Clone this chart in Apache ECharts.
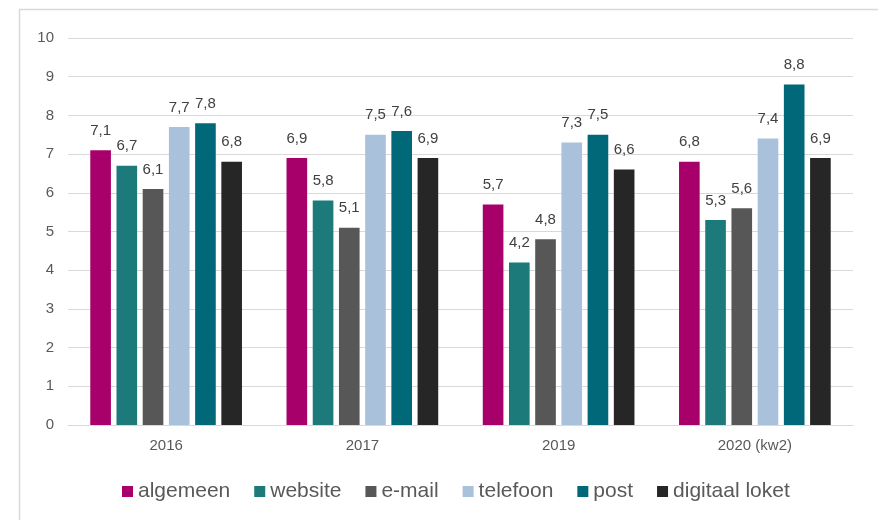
<!DOCTYPE html>
<html>
<head>
<meta charset="utf-8">
<script src="https://cdn.jsdelivr.net/npm/echarts@6/dist/echarts.min.js"></script>
<style>
  html, body { margin: 0; padding: 0; background: #fff; }
  #chart { width: 878px; height: 520px; }
</style>
</head>
<body>
<div id="chart"></div>
<script>
// categories + series values
const categories = ['2016', '2017', '2019', '2020 (kw2)']
const yTicks = [0, 1, 2, 3, 4, 5, 6, 7, 8, 9, 10]

const algemeen = [7.1, 6.9, 5.7, 6.8]
const website = [6.7, 5.8, 4.2, 5.3]
const email = [6.1, 5.1, 4.8, 5.6]
const telefoon = [7.7, 7.5, 7.3, 7.4]
const post = [7.8, 7.6, 7.5, 8.8]
const digitaalLoket = [6.8, 6.9, 6.6, 6.9]

const seriesNames = ['algemeen', 'website', 'e-mail', 'telefoon', 'post', 'digitaal loket']
const seriesData = [algemeen, website, email, telefoon, post, digitaalLoket]
const colors = ['#a8006a', '#1c7a7b', '#575757', '#a9c1da', '#006879', '#262626']

const font = '"Liberation Sans", Arial, sans-serif'

const series = seriesNames.map((name, i) => ({
    name: name,
    type: 'bar',
    data: seriesData[i],
    barGap: '27%',
    barCategoryGap: '22.7%',
    itemStyle: { color: colors[i] },
    label: {
        show: true,
        position: 'top',
        distance: 12,
        fontFamily: font,
        fontSize: 15,
        color: '#404040',
        formatter: p => String(p.value).replace('.', ',')
    }
}))

const options = {
    animation: false,
    color: colors,
    grid: { left: 68, right: 25, top: 38, bottom: 95 },
    // outer frame, only top and left edges show in the picture
    graphic: [{
        type: 'rect',
        shape: { x: 19.5, y: 9.5, width: 1000, height: 1000 },
        style: { fill: 'none', stroke: '#d9d9d9', lineWidth: 1.5 },
        silent: true
    }],
    legend: {
        left: 122,
        top: 481,
        padding: 0,
        icon: 'rect',
        itemWidth: 11,
        itemHeight: 11,
        itemGap: 24,
        data: seriesNames,
        textStyle: { fontFamily: font, fontSize: 21, color: '#595959' }
    },
    xAxis: {
        type: 'category',
        data: categories,
        axisLine: { lineStyle: { color: '#d9d9d9', width: 1 } },
        axisTick: { show: false },
        axisLabel: { fontFamily: font, fontSize: 15, color: '#595959', margin: 13 }
    },
    yAxis: {
        type: 'value',
        min: yTicks[0],
        max: yTicks[yTicks.length - 1],
        interval: 1,
        axisLine: { show: false },
        axisTick: { show: false },
        splitLine: { lineStyle: { color: '#d9d9d9', width: 1 } },
        axisLabel: { fontFamily: font, fontSize: 15, color: '#595959', margin: 14 }
    },
    series: series
}

const chart = echarts.init(document.getElementById('chart'))
chart.setOption(options)
</script>
</body>
</html>
